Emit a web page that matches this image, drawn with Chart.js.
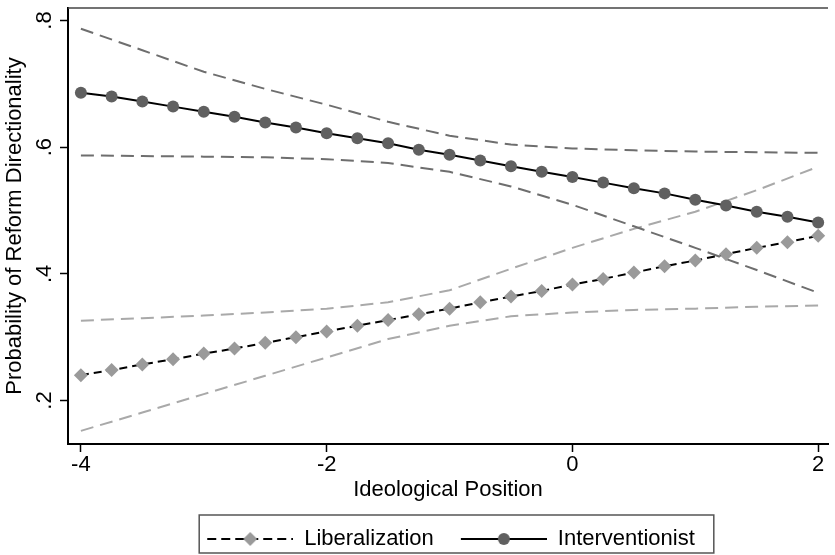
<!DOCTYPE html>
<html><head><meta charset="utf-8">
<script src="https://cdn.jsdelivr.net/npm/chart.js@4.4.1/dist/chart.umd.min.js"></script>
<style>html,body{margin:0;padding:0;background:#fff;} #wrap{width:835px;height:555px;}</style>
</head><body><div id="wrap"><canvas id="c" width="835" height="555"></canvas></div>
<script>
// ---- data ----
const xValues = [-4, -3.75, -3.5, -3.25, -3, -2.75, -2.5, -2.25, -2, -1.75, -1.5, -1.25, -1, -0.75, -0.5, -0.25, 0, 0.25, 0.5, 0.75, 1, 1.25, 1.5, 1.75, 2];
const liberalization = [0.240, 0.248, 0.257, 0.265, 0.274, 0.282, 0.291, 0.300, 0.309, 0.318, 0.327, 0.336, 0.345, 0.355, 0.364, 0.373, 0.383, 0.392, 0.402, 0.412, 0.421, 0.431, 0.441, 0.450, 0.460];
const interventionist = [0.686, 0.680, 0.672, 0.664, 0.656, 0.648, 0.639, 0.631, 0.622, 0.614, 0.606, 0.596, 0.588, 0.579, 0.570, 0.561, 0.553, 0.544, 0.535, 0.527, 0.517, 0.508, 0.498, 0.490, 0.481];
const ciX = [-4, -3.5, -3, -2.5, -2, -1.5, -1, -0.5, 0, 0.5, 1, 1.5, 2];
const intUpper = [0.787, 0.753, 0.719, 0.692, 0.667, 0.640, 0.618, 0.604, 0.598, 0.595, 0.593, 0.592, 0.591];
const intLower = [0.587, 0.586, 0.585, 0.584, 0.581, 0.575, 0.561, 0.538, 0.509, 0.475, 0.441, 0.406, 0.370];
const libUpper = [0.326, 0.330, 0.334, 0.339, 0.345, 0.355, 0.374, 0.408, 0.441, 0.471, 0.498, 0.532, 0.569];
const libLower = [0.152, 0.181, 0.210, 0.239, 0.268, 0.297, 0.318, 0.333, 0.339, 0.343, 0.345, 0.348, 0.350];
const xTickValues = [-4, -2, 0, 2];
const yTickValues = [0.2, 0.4, 0.6, 0.8];
const seriesNames = ['Liberalization', 'Interventionist'];
const xTitle = 'Ideological Position';
const yTitle = 'Probability of Reform Directionality';

// ---- chart ----
const FONT = "'Liberation Sans', Arial, Helvetica, sans-serif";
const pts = (xs, ys) => xs.map((x, i) => ({x: x, y: ys[i]}));

function makeSample(kind) {
  const c = document.createElement('canvas');
  c.width = 92; c.height = 20;
  const g = c.getContext('2d');
  g.strokeStyle = '#000'; g.lineWidth = 2;
  if (kind === 'lib') g.setLineDash([9, 5]);
  g.beginPath(); g.moveTo(6, 10); g.lineTo(92, 10); g.stroke();
  g.setLineDash([]);
  if (kind === 'lib') {
    g.fillStyle = '#9a9a9a';
    g.beginPath(); g.moveTo(49, 3); g.lineTo(56, 10); g.lineTo(49, 17); g.lineTo(42, 10); g.closePath(); g.fill();
  } else {
    g.fillStyle = '#606060';
    g.beginPath(); g.arc(49, 10, 6, 0, Math.PI * 2); g.fill();
  }
  return c;
}
const samples = [makeSample('lib'), makeSample('int')];

const framePlugin = {
  id: 'frame',
  beforeDatasetsDraw(chart) {
    const {ctx, chartArea: a} = chart;
    ctx.save();
    ctx.strokeStyle = '#444'; ctx.lineWidth = 1.5;
    ctx.beginPath(); ctx.moveTo(a.left, a.top); ctx.lineTo(a.right, a.top); ctx.stroke();
    ctx.restore();
  },
  afterDraw(chart) {
    const lg = chart.legend;
    if (!lg || !lg.legendHitBoxes || !lg.legendHitBoxes.length) return;
    const hb = lg.legendHitBoxes;
    const first = hb[0], last = hb[hb.length - 1];
    const cy = first.top + first.height / 2;
    const l = first.left + 6 - 8, r = last.left + last.width + 19;
    const ctx = chart.ctx;
    ctx.save();
    ctx.strokeStyle = '#555'; ctx.lineWidth = 1.5;
    ctx.strokeRect(l, cy - 24, r - l, 38);
    ctx.restore();
  }
};

const gridOpts = {drawOnChartArea: false, drawTicks: true, tickLength: 8, tickColor: '#000', tickWidth: 1.5};

new Chart(document.getElementById('c'), {
  type: 'line',
  data: {
    datasets: [
      {label: seriesNames[0], data: pts(xValues, liberalization), borderColor: '#000', borderWidth: 2, borderDash: [8, 5],
       pointStyle: 'rectRot', pointRadius: 7, pointBackgroundColor: '#9a9a9a', pointBorderColor: '#9a9a9a', pointBorderWidth: 0, tension: 0},
      {label: seriesNames[1], data: pts(xValues, interventionist), borderColor: '#000', borderWidth: 2,
       pointStyle: 'circle', pointRadius: 6, pointBackgroundColor: '#606060', pointBorderColor: '#606060', pointBorderWidth: 0, tension: 0},
      {label: 'int upper', data: pts(ciX, intUpper), borderColor: '#6e6e6e', borderWidth: 2, borderDash: [13, 7], pointRadius: 0, tension: 0},
      {label: 'int lower', data: pts(ciX, intLower), borderColor: '#6e6e6e', borderWidth: 2, borderDash: [13, 7], pointRadius: 0, tension: 0},
      {label: 'lib upper', data: pts(ciX, libUpper), borderColor: '#a9a9a9', borderWidth: 2, borderDash: [13, 7], pointRadius: 0, tension: 0},
      {label: 'lib lower', data: pts(ciX, libLower), borderColor: '#a9a9a9', borderWidth: 2, borderDash: [13, 7], pointRadius: 0, tension: 0}
    ]
  },
  options: {
    responsive: false, animation: false, devicePixelRatio: 1,
    layout: {padding: {top: 8, right: 0, bottom: -5, left: 0}},
    plugins: {
      tooltip: {enabled: false},
      legend: {
        position: 'bottom', fullSize: false,
        labels: {
          usePointStyle: true, pointStyleWidth: 92, boxHeight: 22, padding: 21,
          font: {family: FONT, size: 22}, color: '#000',
          generateLabels: (chart) => seriesNames.map((name, i) => ({
            text: name, datasetIndex: i, pointStyle: samples[i], fillStyle: '#000', strokeStyle: '#000',
            lineWidth: 0, hidden: false, fontColor: '#000'
          }))
        }
      }
    },
    scales: {
      x: {
        type: 'linear', min: -4.105, max: 2.08,
        afterBuildTicks: s => { s.ticks = xTickValues.map(v => ({value: v})); },
        afterFit: s => { s.height = 63; s.paddingLeft = 0; s.paddingRight = 0; },
        grid: gridOpts, border: {color: '#000', width: 2},
        ticks: {font: {family: FONT, size: 22}, color: '#000', padding: 0, autoSkip: false, maxRotation: 0, callback: v => String(v)},
        title: {display: true, text: xTitle, font: {family: FONT, size: 22}, color: '#000', padding: {top: 0, bottom: 4}}
      },
      y: {
        type: 'linear', min: 0.1313, max: 0.8197,
        afterBuildTicks: s => { s.ticks = yTickValues.map(v => ({value: v})); },
        afterFit: s => { s.width = 68; s.paddingTop = 0; s.paddingBottom = 0; },
        grid: gridOpts, border: {color: '#000', width: 2},
        ticks: {font: {family: FONT, size: 22}, color: '#000', padding: 6, autoSkip: false, minRotation: 90, maxRotation: 90, crossAlign: 'center',
                callback: v => '.' + Math.round(v * 10)},
        title: {display: true, text: yTitle, font: {family: FONT, size: 22}, color: '#000', padding: {top: 2, bottom: 0}}
      }
    }
  },
  plugins: [framePlugin]
});
</script>
</body></html>
